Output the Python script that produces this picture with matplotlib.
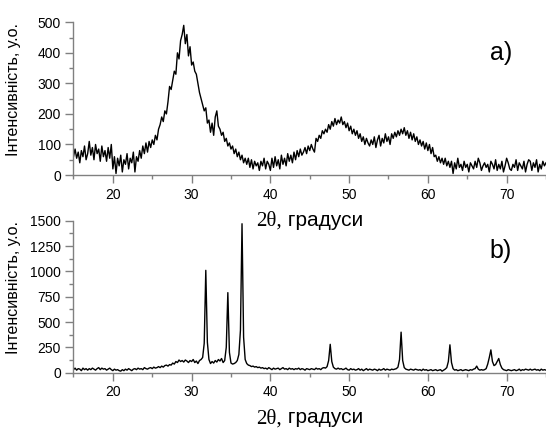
import numpy as np
import matplotlib
matplotlib.use('Agg')
import matplotlib.pyplot as plt
from matplotlib.ticker import MultipleLocator
from matplotlib.offsetbox import TextArea, HPacker, AnnotationBbox

# --- data (0.2 deg step) ---
two_theta = np.round(np.arange(15.0, 75.0 + 0.1, 0.2), 1)

intensity_a = [
    60, 85, 55, 75, 40, 80, 60, 95, 50, 70,          # 15.0 - 16.8
    110, 65, 90, 50, 100, 70, 85, 45, 95, 60,        # 17
    80, 45, 90, 55, 100, 20, 60, 5, 55, 30,          # 19
    65, 10, 50, 35, 70, 20, 55, 40, 75, 10,          # 21
    60, 45, 80, 55, 95, 70, 105, 75, 110, 90,        # 23
    115, 100, 130, 115, 150, 165, 190, 175, 210, 200,  # 25
    240, 290, 280, 310, 340, 330, 400, 380, 440, 460,  # 27
    490, 430, 460, 390, 420, 360, 370, 340, 330, 300,  # 29
    270, 250, 230, 210, 220, 170, 180, 140, 170, 130,  # 31
    190, 210, 160, 150, 130, 140, 110, 120, 95, 105,   # 33
    85, 95, 70, 85, 60, 75, 50, 65, 40, 55,          # 35
    35, 55, 25, 50, 20, 45, 30, 40, 15, 45,          # 37
    30, 55, 20, 45, 35, 15, 55, 25, 60, 30,          # 39
    50, 20, 65, 35, 55, 30, 70, 45, 65, 40,          # 41
    75, 50, 80, 60, 85, 65, 75, 90, 70, 95,          # 43
    80, 100, 85, 75, 120, 110, 130, 120, 145, 135,   # 45
    150, 140, 165, 150, 175, 160, 185, 165, 180, 170,  # 47
    190, 165, 175, 155, 170, 145, 160, 135, 150, 130,  # 49
    145, 120, 135, 110, 125, 100, 120, 105, 95, 115,   # 51
    100, 125, 90, 115, 130, 95, 120, 105, 135, 110,    # 53
    125, 100, 135, 120, 140, 125, 145, 130, 150, 135,  # 55
    155, 130, 145, 120, 140, 115, 135, 110, 125, 100,  # 57
    115, 95, 110, 85, 105, 80, 100, 70, 90, 60,      # 59
    65, 45, 60, 40, 55, 35, 55, 30, 45, 25,          # 61
    45, 5, 40, 20, 55, 25, 35, 15, 45, 25,           # 63
    35, 10, 40, 30, 20, 45, 25, 55, 40, 15,          # 65
    30, 40, 25, 35, 10, 45, 35, 20, 50, 15,          # 67
    35, 20, 45, 10, 30, 55, 40, 20, 15, 35,          # 69
    25, 50, 15, 40, 30, 20, 45, 10, 35, 50,          # 71
    45, 15, 40, 25, 50, 10, 35, 20, 45, 30,          # 73
    40,                                              # 75.0
]

intensity_b = [
    30, 45, 25, 40, 35, 20, 45, 30, 40, 25,          # 15.0 - 16.8
    40, 30, 45, 35, 25, 40, 50, 30, 45, 35,          # 17
    40, 25, 35, 45, 30, 20, 35, 25, 30, 20,          # 19
    15, 30, 20, 35, 25, 40, 30, 20, 35, 40,          # 21
    30, 45, 35, 40, 30, 50, 40, 35, 45, 50,          # 23
    40, 55, 45, 50, 60, 50, 65, 55, 70, 75,          # 25
    65, 80, 75, 95, 85, 110, 100, 125, 110, 120,     # 27
    105, 125, 115, 100, 120, 110, 130, 100, 115, 90,  # 29
    120, 130, 150, 290, 1010, 300, 130, 90, 110, 95,  # 31
    120, 105, 130, 115, 140, 100, 120, 250, 790, 200,  # 33
    95, 85, 90, 100, 120, 180, 420, 1470, 350, 130,   # 35
    90, 75, 70, 60, 65, 55, 60, 50, 55, 45,          # 37
    50, 40, 45, 35, 50, 40, 30, 45, 35, 40,          # 39
    45, 30, 40, 50, 35, 40, 30, 45, 35, 40,          # 41
    30, 40, 35, 45, 30, 40, 35, 25, 40, 35,          # 43
    30, 40, 35, 30, 45, 35, 40, 30, 45, 50,          # 45
    45, 60, 120, 280, 110, 55, 40, 35, 45, 35,       # 47
    40, 30, 35, 45, 30, 25, 40, 30, 35, 25,          # 49
    30, 40, 25, 35, 20, 30, 40, 25, 35, 30,          # 51
    25, 35, 30, 20, 35, 25, 30, 40, 25, 35,          # 53
    30, 25, 35, 30, 35, 40, 55, 130, 400, 120,       # 55
    50, 35, 30, 25, 35, 30, 25, 35, 30, 25,          # 57
    30, 20, 35, 25, 30, 20, 25, 30, 20, 25,          # 59
    30, 20, 25, 30, 15, 25, 35, 50, 110, 275,        # 61
    100, 40, 25, 30, 20, 25, 30, 20, 25, 30,         # 63
    25, 20, 30, 25, 35, 40, 65, 35, 25, 30,          # 65
    25, 30, 40, 85, 150, 225, 110, 70, 80, 110,      # 67
    140, 80, 45, 30, 25, 20, 30, 25, 20, 25,         # 69
    30, 20, 25, 35, 20, 30, 25, 35, 30, 25,          # 71
    35, 25, 30, 35, 25, 30, 20, 35, 25, 30,          # 73
    25,                                              # 75.0
]

ylabel = 'Інтенсивність, у.о.'
panels = [
    (intensity_a, 'a)', 500, 100, 50),
    (intensity_b, 'b)', 1500, 250, 125),
]

plt.rcParams['font.family'] = ['Liberation Sans', 'DejaVu Sans']
axis_grey = '#808080'

fig = plt.figure(figsize=(5.46, 4.33), dpi=100)
rects = [[0.1346, 0.5958, 0.8654, 0.3527],
         [0.1346, 0.1393, 0.8654, 0.3510]]

for rect, (vals, letter, ymax, ymaj, ymin) in zip(rects, panels):
    ax = fig.add_axes(rect)
    ax.patch.set_visible(False)  # so the upper x label is not hidden
    ax.plot(two_theta, vals, color='black', lw=1.0)
    ax.set_xlim(15, 75)
    ax.set_ylim(0, ymax)

    for s in ['top', 'right']:
        ax.spines[s].set_visible(False)
    for s in ['left', 'bottom']:
        ax.spines[s].set_color(axis_grey)
        ax.spines[s].set_linewidth(1.0)

    ax.xaxis.set_major_locator(MultipleLocator(10))
    ax.xaxis.set_minor_locator(MultipleLocator(5))
    ax.yaxis.set_major_locator(MultipleLocator(ymaj))
    ax.yaxis.set_minor_locator(MultipleLocator(ymin))
    ax.tick_params(which='major', length=6, width=1.0, color=axis_grey,
                   labelsize=10, labelcolor='black', pad=3)
    ax.tick_params(which='minor', length=3, width=1.0, color=axis_grey)

    ax.set_ylabel(ylabel, fontsize=11.5)
    ax.yaxis.set_label_coords(-0.111, 0.56)

    ax.text(0.904, 0.80, letter, transform=ax.transAxes, fontsize=18,
            ha='center', va='center')

    # 2θ (serif) + ", градуси" (sans)
    t1 = TextArea('2θ,', textprops=dict(family='Liberation Serif', size=15))
    t2 = TextArea(' градуси', textprops=dict(family='Liberation Sans', size=15))
    box = HPacker(children=[t1, t2], align='baseline', pad=0, sep=0)
    ab = AnnotationBbox(box, (0.5, -0.30), xycoords='axes fraction',
                        box_alignment=(0.5, 0.5), frameon=False, pad=0,
                        annotation_clip=False)
    ax.add_artist(ab)

fig.savefig('out.png', dpi=100)
